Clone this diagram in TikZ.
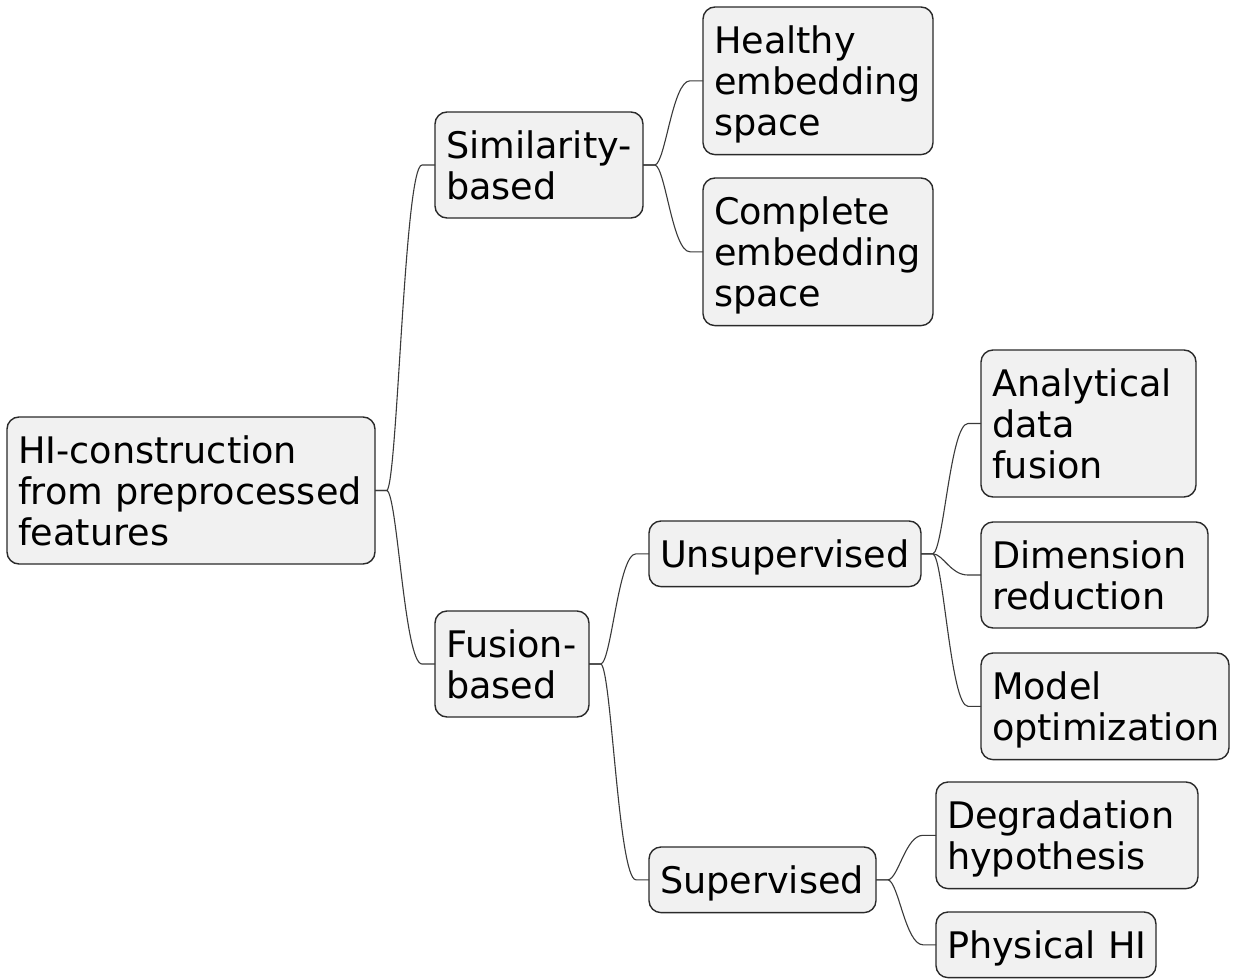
\documentclass[tikz,border=0pt]{standalone}
\usepackage{fontspec}
\setmainfont{DejaVu Sans}
\usetikzlibrary{calc}
\definecolor{boxfill}{HTML}{F1F1F1}
\definecolor{boxline}{HTML}{2A2A2A}
\definecolor{linkline}{HTML}{3A3A3A}
\tikzset{
  topic/.style={draw=boxline, line width=1.4bp, fill=boxfill,
    rounded corners=12bp, anchor=north west, align=left,
    inner xsep=11bp, inner ysep=12bp, outer sep=0pt,
    text width=#1-22bp,
    font=\fontsize{36.6bp}{41bp}\selectfont,
    execute at begin node={\hyphenpenalty=10000\exhyphenpenalty=10000\rule{0pt}{34bp}},
    execute at end node={\rule[-7bp]{0pt}{7bp}}},
  link/.style={draw=linkline, line width=1.1bp}
}
% horizontal stub, S-shaped cubic, horizontal stub into the child
\newcommand\mmlink[2]{%
  \draw[link] let \p1=(#1.east), \p2=(#2.west),
      \n1={\x2-\x1-25bp}, \n2={\y2-\y1} in
    (\p1) -- ++(12bp,0)
    .. controls +({0.3*\n1},{0.03*\n2}) and +({-0.5*\n1},0) .. ({\x2-13bp},\y2)
    -- (\p2);}
\begin{document}
\begin{tikzpicture}[x=1bp, y=-1bp]
\useasboundingbox (0,0) rectangle (1233,980);

\node[topic=368bp] (root) at (7,417) {HI-construction\\from~preprocessed\\features};

\node[topic=208bp] (sim) at (435,112) {Similarity-\\based};
\node[topic=230bp] (healthy) at (703,7) {Healthy\\embedding\\space};
\node[topic=230bp] (complete) at (703,178) {Complete\\embedding\\space};

\node[topic=154bp] (fusion) at (435,611) {Fusion-\\based};
\node[topic=272bp] (unsup) at (649,521) {Unsupervised};
\node[topic=227bp] (sup) at (649,847) {Supervised};

\node[topic=215bp] (analytical) at (981,350) {Analytical\\data\\fusion};
\node[topic=227bp] (dimension) at (981,522) {Dimension\\reduction};
\node[topic=248bp] (model) at (981,653) {Model\\optimization};

\node[topic=262bp] (degradation) at (936,782) {Degradation\\hypothesis};
\node[topic=220bp] (physical) at (936,912) {Physical~HI};

\mmlink{root}{sim}
\mmlink{root}{fusion}
\mmlink{sim}{healthy}
\mmlink{sim}{complete}
\mmlink{fusion}{unsup}
\mmlink{fusion}{sup}
\mmlink{unsup}{analytical}
\mmlink{unsup}{dimension}
\mmlink{unsup}{model}
\mmlink{sup}{degradation}
\mmlink{sup}{physical}
\end{tikzpicture}
\end{document}
